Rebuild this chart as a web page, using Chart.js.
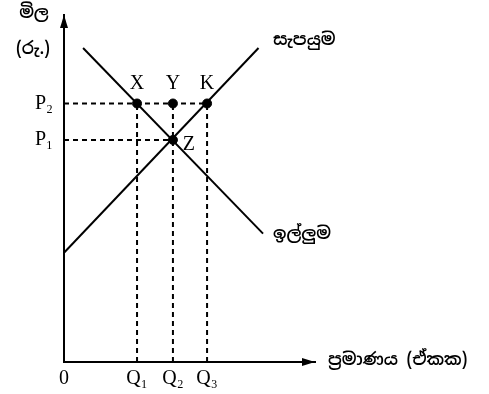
<!DOCTYPE html>
<html>
<head>
<meta charset="utf-8">
<script src="https://cdn.jsdelivr.net/npm/chart.js@4"></script>
<style>
  body { margin: 0; background: #fff; }
  #wrap { width: 489px; height: 394px; }
</style>
</head>
<body>
<div id="wrap"><canvas id="chart"></canvas></div>
<script>
// values (axes run 0..10)
const quantityTicks = [0, 2.91, 4.34, 5.70];
const quantityLabels = ['0', 'Q₁', 'Q₂', 'Q₃'];
const priceTicks = [6.4, 7.45];
const priceLabels = ['P₁', 'P₂'];

const supplyX = [0, 7.75];
const supplyY = [3.15, 9.05];
const demandX = [0.76, 7.93];
const demandY = [9.05, 3.7];

const pointNames = ['X', 'Y', 'K', 'Z'];
const pointX = [2.91, 4.34, 5.70, 4.34];
const pointY = [7.45, 7.45, 7.45, 6.4];

const priceTitle = ['මිල', '(රු.)'];
const quantityTitle = 'ප්‍රමාණය (ඒකක)';
const supplyName = 'සැපයුම';
const demandName = 'ඉල්ලුම';

const xy = (xs, ys) => xs.map((x, i) => ({ x: x, y: ys[i] }));

const [Q1, Q2, Q3] = quantityTicks.slice(1);
const [P1, P2] = priceTicks;

const dashed = (pts) => ({
    data: pts,
    showLine: true,
    borderColor: '#000',
    borderWidth: 2,
    borderDash: [5, 4],
    pointRadius: 0
});

const sinhalaFont = '"Noto Sans Sinhala", "Noto Sans", sans-serif';
const serifFont = '"Liberation Serif", serif';

const decorations = {
    id: 'decorations',
    afterDraw(chart) {
        const ctx = chart.ctx;
        const xs = chart.scales.x, ys = chart.scales.y;
        const left = chart.chartArea.left, top = chart.chartArea.top;
        const right = chart.chartArea.right, bottom = chart.chartArea.bottom;
        ctx.save();
        ctx.fillStyle = '#000';

        // arrow heads
        ctx.beginPath();
        ctx.moveTo(left, top);
        ctx.lineTo(left - 4, top + 13);
        ctx.lineTo(left + 4, top + 13);
        ctx.closePath();
        ctx.fill();
        ctx.beginPath();
        ctx.moveTo(right, bottom);
        ctx.lineTo(right - 13, bottom - 4);
        ctx.lineTo(right - 13, bottom + 4);
        ctx.closePath();
        ctx.fill();

        // point names
        ctx.font = '20px ' + serifFont;
        ctx.textAlign = 'center';
        ctx.textBaseline = 'middle';
        pointNames.forEach((name, i) => {
            const px = xs.getPixelForValue(pointX[i]);
            const py = ys.getPixelForValue(pointY[i]);
            if (name === 'Z') ctx.fillText(name, px + 16, py + 5);
            else ctx.fillText(name, px, py - 20);
        });

        // axis and curve names
        ctx.font = '600 17px ' + sinhalaFont;
        ctx.fillText(priceTitle[0], 34, 13);
        ctx.fillText(priceTitle[1], 33, 49);
        ctx.textAlign = 'left';
        ctx.fillText(quantityTitle, right + 13, bottom - 2);
        ctx.fillText(supplyName, 273, 40);
        ctx.fillText(demandName, 273, 234);
        ctx.restore();
    }
};

new Chart(document.getElementById('chart'), {
    type: 'scatter',
    data: {
        datasets: [
            { data: xy(supplyX, supplyY), showLine: true, borderColor: '#000', borderWidth: 2, pointRadius: 0 },
            { data: xy(demandX, demandY), showLine: true, borderColor: '#000', borderWidth: 2, pointRadius: 0 },
            dashed([{ x: 0, y: P2 }, { x: Q3, y: P2 }]),
            dashed([{ x: 0, y: P1 }, { x: Q2, y: P1 }]),
            dashed([{ x: Q1, y: 0 }, { x: Q1, y: P2 }]),
            dashed([{ x: Q2, y: 0 }, { x: Q2, y: P2 }]),
            dashed([{ x: Q3, y: 0 }, { x: Q3, y: P2 }]),
            {
                data: xy(pointX, pointY),
                showLine: false,
                pointRadius: 4.5,
                pointBackgroundColor: '#000',
                pointBorderColor: '#000'
            }
        ]
    },
    options: {
        responsive: true,
        maintainAspectRatio: false,
        animation: false,
        layout: { padding: { top: 13, right: 174, bottom: 0, left: 0 } },
        plugins: { legend: { display: false }, tooltip: { enabled: false } },
        scales: {
            x: {
                type: 'linear',
                min: 0,
                max: 10,
                grid: { display: false },
                border: { display: true, color: '#000', width: 2 },
                afterBuildTicks: (scale) => { scale.ticks = quantityTicks.map(v => ({ value: v })); },
                afterFit: (scale) => { scale.height = 32; },
                ticks: {
                    autoSkip: false,
                    maxRotation: 0,
                    padding: -3,
                    color: '#000',
                    font: { family: serifFont, size: 20 },
                    callback: (value, index) => quantityLabels[index]
                }
            },
            y: {
                type: 'linear',
                min: 0,
                max: 10,
                grid: { display: false },
                border: { display: true, color: '#000', width: 2 },
                afterBuildTicks: (scale) => { scale.ticks = priceTicks.map(v => ({ value: v })); },
                afterFit: (scale) => { scale.width = 64; },
                ticks: {
                    autoSkip: false,
                    padding: 3,
                    color: '#000',
                    font: { family: serifFont, size: 20 },
                    callback: (value, index) => priceLabels[index]
                }
            }
        }
    },
    plugins: [decorations]
});
</script>
</body>
</html>
